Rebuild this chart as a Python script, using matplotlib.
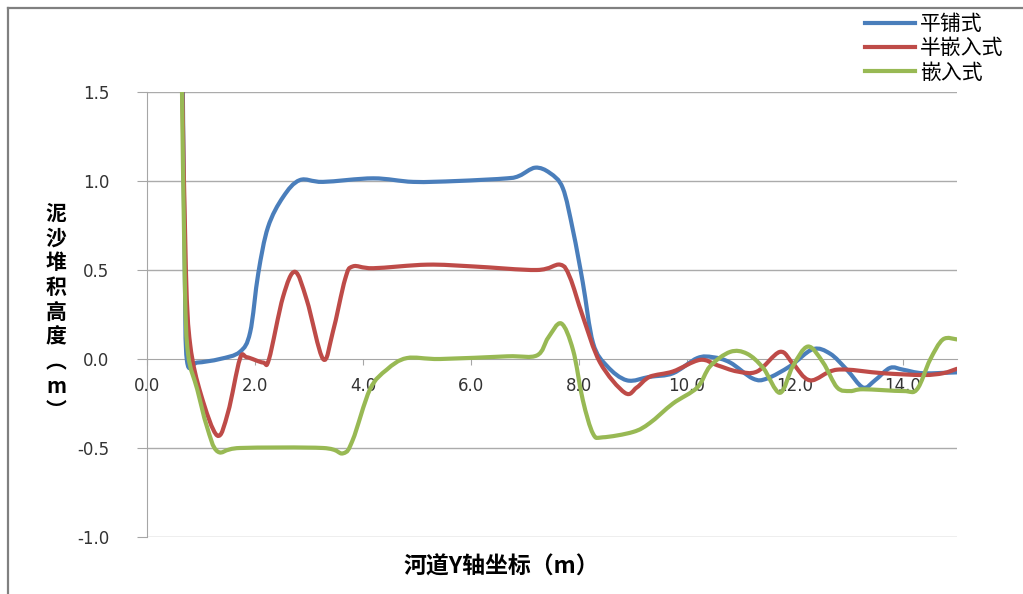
import numpy as np
import matplotlib
matplotlib.use('Agg')
import matplotlib.pyplot as plt
from matplotlib.path import Path
from matplotlib.patches import PathPatch
from matplotlib.lines import Line2D

plt.rcParams['font.family'] = ['Noto Sans CJK SC', 'DejaVu Sans']

# data
x_flat = [0.66, 0.70, 0.74, 0.93, 1.35, 1.72, 1.91, 2.06, 2.24, 2.52, 2.83, 3.26, 4.19, 4.93,
          5.74, 6.67, 6.90, 7.19, 7.46, 7.70, 7.89, 8.07, 8.26, 8.52, 8.89, 9.31, 9.74, 10.19,
          10.48, 10.80, 11.22, 11.48, 11.91, 12.33, 12.65, 12.96, 13.26, 13.48, 13.76, 14.00,
          14.37, 15.00]
y_flat = [1.60, 0.50, -0.01, -0.02, 0.00, 0.04, 0.15, 0.48, 0.74, 0.91, 1.005, 0.995, 1.015, 0.995,
          1.00, 1.015, 1.03, 1.075, 1.045, 0.96, 0.72, 0.43, 0.09, -0.04, -0.12, -0.10, -0.08, 0.005,
          0.01, -0.02, -0.11, -0.11, -0.04, 0.055, 0.03, -0.06, -0.16, -0.12, -0.05, -0.06,
          -0.08, -0.075]

x_half = [0.65, 0.72, 0.80, 1.00, 1.30, 1.50, 1.72, 1.85, 2.15, 2.26, 2.52, 2.74, 2.96, 3.26,
          3.44, 3.67, 3.81, 4.19, 5.19, 6.04, 7.22, 7.65, 7.83, 8.07, 8.39, 8.85, 9.07, 9.31,
          9.74, 10.24, 10.56, 10.93, 11.30, 11.72, 11.96, 12.28, 12.78, 13.63, 14.37, 14.74, 15.00]
y_half = [1.60, 0.50, 0.08, -0.20, -0.43, -0.30, 0.00, 0.01, -0.02, 0.00, 0.35, 0.49, 0.33, 0.00,
          0.15, 0.45, 0.52, 0.51, 0.53, 0.52, 0.50, 0.53, 0.46, 0.24, -0.02, -0.19, -0.16, -0.10,
          -0.07, -0.005, -0.035, -0.07, -0.07, 0.04, -0.025, -0.12, -0.06, -0.08, -0.09, -0.08, -0.055]

x_emb = [0.64, 0.70, 0.76, 0.93, 1.11, 1.31, 1.72, 3.26, 3.63, 3.81, 4.13, 4.44, 4.81, 5.43,
         6.67, 7.22, 7.43, 7.67, 7.89, 8.07, 8.26, 8.44, 9.00, 9.31, 9.74, 10.19, 10.43, 10.80,
         11.11, 11.41, 11.72, 11.96, 12.24, 12.52, 12.78, 13.02, 13.26, 14.00, 14.26, 14.50,
         14.74, 15.00]
y_emb = [1.70, 0.44, 0.03, -0.17, -0.38, -0.52, -0.50, -0.50, -0.53, -0.455, -0.17, -0.06, 0.005, 0.00,
         0.015, 0.02, 0.12, 0.20, 0.05, -0.23, -0.42, -0.44, -0.41, -0.36, -0.25, -0.16, -0.04, 0.04,
         0.03, -0.05, -0.19, -0.04, 0.07, -0.02, -0.16, -0.18, -0.17, -0.18, -0.17, -0.005,
         0.11, 0.11]

names = ['平铺式', '半嵌入式', '嵌入式']
colors = ['#4A7EBB', '#BE4B48', '#98B954']
x_ticks = [0.0, 2.0, 4.0, 6.0, 8.0, 10.0, 12.0, 14.0]
y_ticks = [-1.0, -0.5, 0.0, 0.5, 1.0, 1.5]


def smooth_path(xs, ys):
    # smoothed line like the spreadsheet one, Catmull-Rom through the points
    p = np.column_stack([xs, ys])
    n = len(p)
    verts = [p[0]]
    codes = [Path.MOVETO]
    for i in range(n - 1):
        p0 = p[i - 1] if i > 0 else p[i]
        p3 = p[i + 2] if i + 2 < n else p[i + 1]
        c1 = p[i] + (p[i + 1] - p0) / 6
        c2 = p[i + 1] - (p3 - p[i]) / 6
        verts += [c1, c2, p[i + 1]]
        codes += [Path.CURVE4] * 3
    return Path(verts, codes)


fig = plt.figure(figsize=(10.23, 5.94), dpi=100)
ax = fig.add_axes([147 / 1023, 57 / 594, 810 / 1023, 445 / 594])

series = [(x_flat, y_flat), (x_half, y_half), (x_emb, y_emb)]
handles = []
for (xs, ys), c, name in zip(series, colors, names):
    patch = PathPatch(smooth_path(xs, ys), facecolor='none', edgecolor=c, lw=3.0,
                      capstyle='round', joinstyle='round', zorder=3)
    ax.add_patch(patch)
    handles.append(Line2D([], [], color=c, lw=3.0))

ax.set_xlim(0, 15)
ax.set_ylim(-1.0, 1.5)
ax.set_xticks(x_ticks)
ax.set_xticklabels(['%.1f' % v for v in x_ticks])
ax.set_yticks(y_ticks)
ax.set_yticklabels(['%.1f' % v for v in y_ticks])

for v in y_ticks:
    if v != 0.0:
        ax.axhline(v, color='#ABABAB', lw=1, zorder=1)

for s in ['top', 'right']:
    ax.spines[s].set_visible(False)
ax.spines['bottom'].set_position(('data', 0))
ax.spines['bottom'].set_color('#A6A6A6')
ax.spines['left'].set_color('#A6A6A6')
ax.tick_params(axis='x', direction='out', length=4, color='#A6A6A6', pad=9,
               labelsize=12, labelcolor='#333333')
ax.tick_params(axis='y', direction='out', length=7, color='#A6A6A6', pad=20,
               labelsize=12, labelcolor='#333333')
for lab in ax.get_xticklabels() + ax.get_yticklabels():
    lab.set_family('DejaVu Sans')

fig.text(501 / 1023, 1 - 567 / 594, '河道Y轴坐标（m）', ha='center', va='center',
         fontsize=16.5, fontweight='bold')
fig.text(56 / 1023, 1 - 312 / 594, '\n'.join('泥沙堆积高度︵m︶'), ha='center', va='center',
         fontsize=15, fontweight='bold', linespacing=1.22)

fig.legend(handles, names, loc='upper left', bbox_to_anchor=(857 / 1023, 1 - 5 / 594),
           frameon=False, fontsize=15, handlelength=2.4, handletextpad=0.22,
           labelspacing=0.1, borderaxespad=0)

fig.add_artist(Line2D([8 / 1023, 8 / 1023], [0, 1 - 8 / 594], transform=fig.transFigure,
                      color='#808080', lw=1.6))
fig.add_artist(Line2D([8 / 1023, 1], [1 - 8 / 594, 1 - 8 / 594], transform=fig.transFigure,
                      color='#808080', lw=1.6))

fig.savefig('out.png', dpi=100)
